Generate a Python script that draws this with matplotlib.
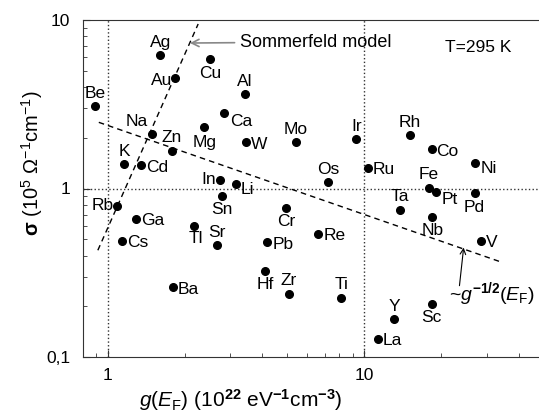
import matplotlib
matplotlib.use("Agg")
import matplotlib.pyplot as plt
from matplotlib.ticker import FixedLocator, FixedFormatter, LogLocator, NullFormatter

plt.rcParams["font.family"] = ["Liberation Sans", "DejaVu Sans"]
plt.rcParams["mathtext.fontset"] = "custom"
plt.rcParams["mathtext.rm"] = "Liberation Sans"
plt.rcParams["mathtext.it"] = "Liberation Sans:italic"
plt.rcParams["mathtext.bf"] = "Liberation Sans:bold"

# density of states at E_F (1e22 eV^-1 cm^-3) and conductivity (1e5 Ohm^-1 cm^-1)
elements = ["Be", "Ag", "Au", "Cu", "Al", "Ca", "Mg", "W", "Mo", "Na", "Zn", "K", "Cd",
            "In", "Li", "Sn", "Rb", "Ga", "Cs", "Tl", "Sr", "Ba", "Cr", "Pb", "Hf", "Zr",
            "Re", "Ti", "Os", "Ir", "Ru", "Rh", "Co", "Ni", "Fe", "Pt", "Pd", "Ta", "Nb",
            "V", "Y", "Sc", "La"]
g_ef = [0.889, 1.60, 1.83, 2.50, 3.43, 2.84, 2.37, 3.46, 5.42, 1.49, 1.78, 1.16, 1.35,
        2.74, 3.16, 2.79, 1.09, 1.29, 1.14, 2.17, 2.67, 1.79, 4.96, 4.18, 4.10, 5.09,
        6.61, 8.13, 7.23, 9.31, 10.3, 15.1, 18.3, 27.1, 17.9, 19.1, 26.9, 13.8, 18.4,
        28.4, 13.1, 18.3, 11.3]
sigma = [3.08, 6.19, 4.52, 5.86, 3.63, 2.79, 2.31, 1.88, 1.88, 2.10, 1.68, 1.39, 1.37,
         1.13, 1.06, 0.908, 0.79, 0.66, 0.49, 0.60, 0.46, 0.26, 0.77, 0.48, 0.325, 0.237,
         0.54, 0.224, 1.09, 1.96, 1.33, 2.07, 1.71, 1.41, 1.01, 0.95, 0.934, 0.75, 0.68,
         0.49, 0.168, 0.207, 0.128]

# model lines (end points)
sommerfeld_g = [0.914, 2.25]
sommerfeld_sigma = [0.43, 9.47]
fit_g = [0.922, 34.0]
fit_sigma = [2.47, 0.367]

# label placement (pixel offsets from the dot)
A, B, R, L = (0, 13), (0, -14), (5, -2), (-4, 0)
place = {
    "Be": A, "Ag": A, "Au": (-3, -2), "Cu": B, "Al": A, "Ca": (6, -8), "Mg": (1, -15),
    "W": R, "Mo": A, "Na": (-4, 13), "Zn": (0, 13), "K": A, "Cd": R, "In": L,
    "Li": (5, -5), "Sn": B, "Rb": L, "Ga": R, "Cs": R, "Tl": (2, -13), "Sr": A,
    "Ba": R, "Cr": B, "Pb": R, "Hf": B, "Zr": A, "Re": R, "Ti": A, "Os": A, "Ir": A,
    "Ru": R, "Rh": A, "Co": R, "Ni": (5, -5), "Fe": A, "Pt": (5, -7), "Pd": B,
    "Ta": A, "Nb": B, "V": R, "Y": A, "Sc": B, "La": R,
}

fig = plt.figure(figsize=(5.39, 4.13), dpi=100)
ax = fig.add_axes([83 / 539, 56 / 413, 456 / 539, 337 / 413])
ax.set_xscale("log")
ax.set_yscale("log")
ax.set_xlim(0.8, 48)
ax.set_ylim(0.1, 10)

ax.axvline(1, color="#333333", ls=":", lw=1)
ax.axvline(10, color="#333333", ls=":", lw=1)
ax.axhline(1, color="#333333", ls=":", lw=1)

ax.plot(sommerfeld_g, sommerfeld_sigma, color="black", ls=(0, (4, 3)), lw=1)
ax.plot(fit_g, fit_sigma, color="black", ls=(0, (4, 3)), lw=1)

ax.plot(g_ef, sigma, "o", color="black", ms=5.5, ls="none")

for name, x, y in zip(elements, g_ef, sigma):
    dx, dy = place[name]
    ha = "center" if dx in (0, 1, 2) else ("left" if dx > 0 else "right")
    ax.annotate(name, (x, y), xytext=(dx, dy), textcoords="offset pixels",
                ha=ha, va="center", fontsize=12.5)

ax.annotate("Sommerfeld model", xy=(2.09, 7.3), xytext=(3.28, 7.4),
            ha="left", va="center", fontsize=13,
            arrowprops=dict(arrowstyle="->", color="#888888", lw=1.2, shrinkA=2, shrinkB=0))
ax.text(20.7, 6.91, "T=295 K", ha="left", va="center", fontsize=12.5)
ax.annotate("", xy=(24.4, 0.446), xytext=(23.5, 0.265),
            arrowprops=dict(arrowstyle="->", color="black", lw=0.8, shrinkA=0, shrinkB=0))
ax.text(21.3, 0.237, r"~$g^{\mathbf{-1/2}}(E_\mathrm{F})$", ha="left", va="center",
        fontsize=14)

ax.xaxis.set_major_locator(FixedLocator([1, 10]))
ax.xaxis.set_major_formatter(FixedFormatter(["1", "10"]))
ax.xaxis.set_minor_locator(LogLocator(base=10, subs=range(2, 10)))
ax.xaxis.set_minor_formatter(NullFormatter())
ax.yaxis.set_major_locator(FixedLocator([0.1, 1, 10]))
ax.yaxis.set_major_formatter(FixedFormatter(["0,1", "1", "10"]))
ax.yaxis.set_minor_locator(LogLocator(base=10, subs=range(2, 10)))
ax.yaxis.set_minor_formatter(NullFormatter())
ax.tick_params(which="both", direction="in", labelsize=12.5, color="#333333")
ax.tick_params(which="major", length=5)
ax.tick_params(which="minor", length=3)
ax.tick_params(axis="x", which="major", pad=8)
ax.tick_params(axis="y", which="major", pad=9)
ax.spines["right"].set_visible(False)
for s in ("left", "bottom", "top"):
    ax.spines[s].set_color("#333333")

ax.set_xlabel(r"$g(E_\mathrm{F})$ (10$^{\mathbf{22}}$ eV$^{\mathbf{-1}}$cm$^{\mathbf{-3}}$)",
              fontsize=15, va="center")
ax.xaxis.set_label_coords(0.345, -0.128)
ax.set_ylabel(r"$\mathbf{σ}$ (10$^5$ Ω$^{-1}$cm$^{-1}$)", fontsize=14.5, va="center")
ax.yaxis.set_label_coords(-0.112, 0.576)

fig.savefig("out.png", dpi=100)
